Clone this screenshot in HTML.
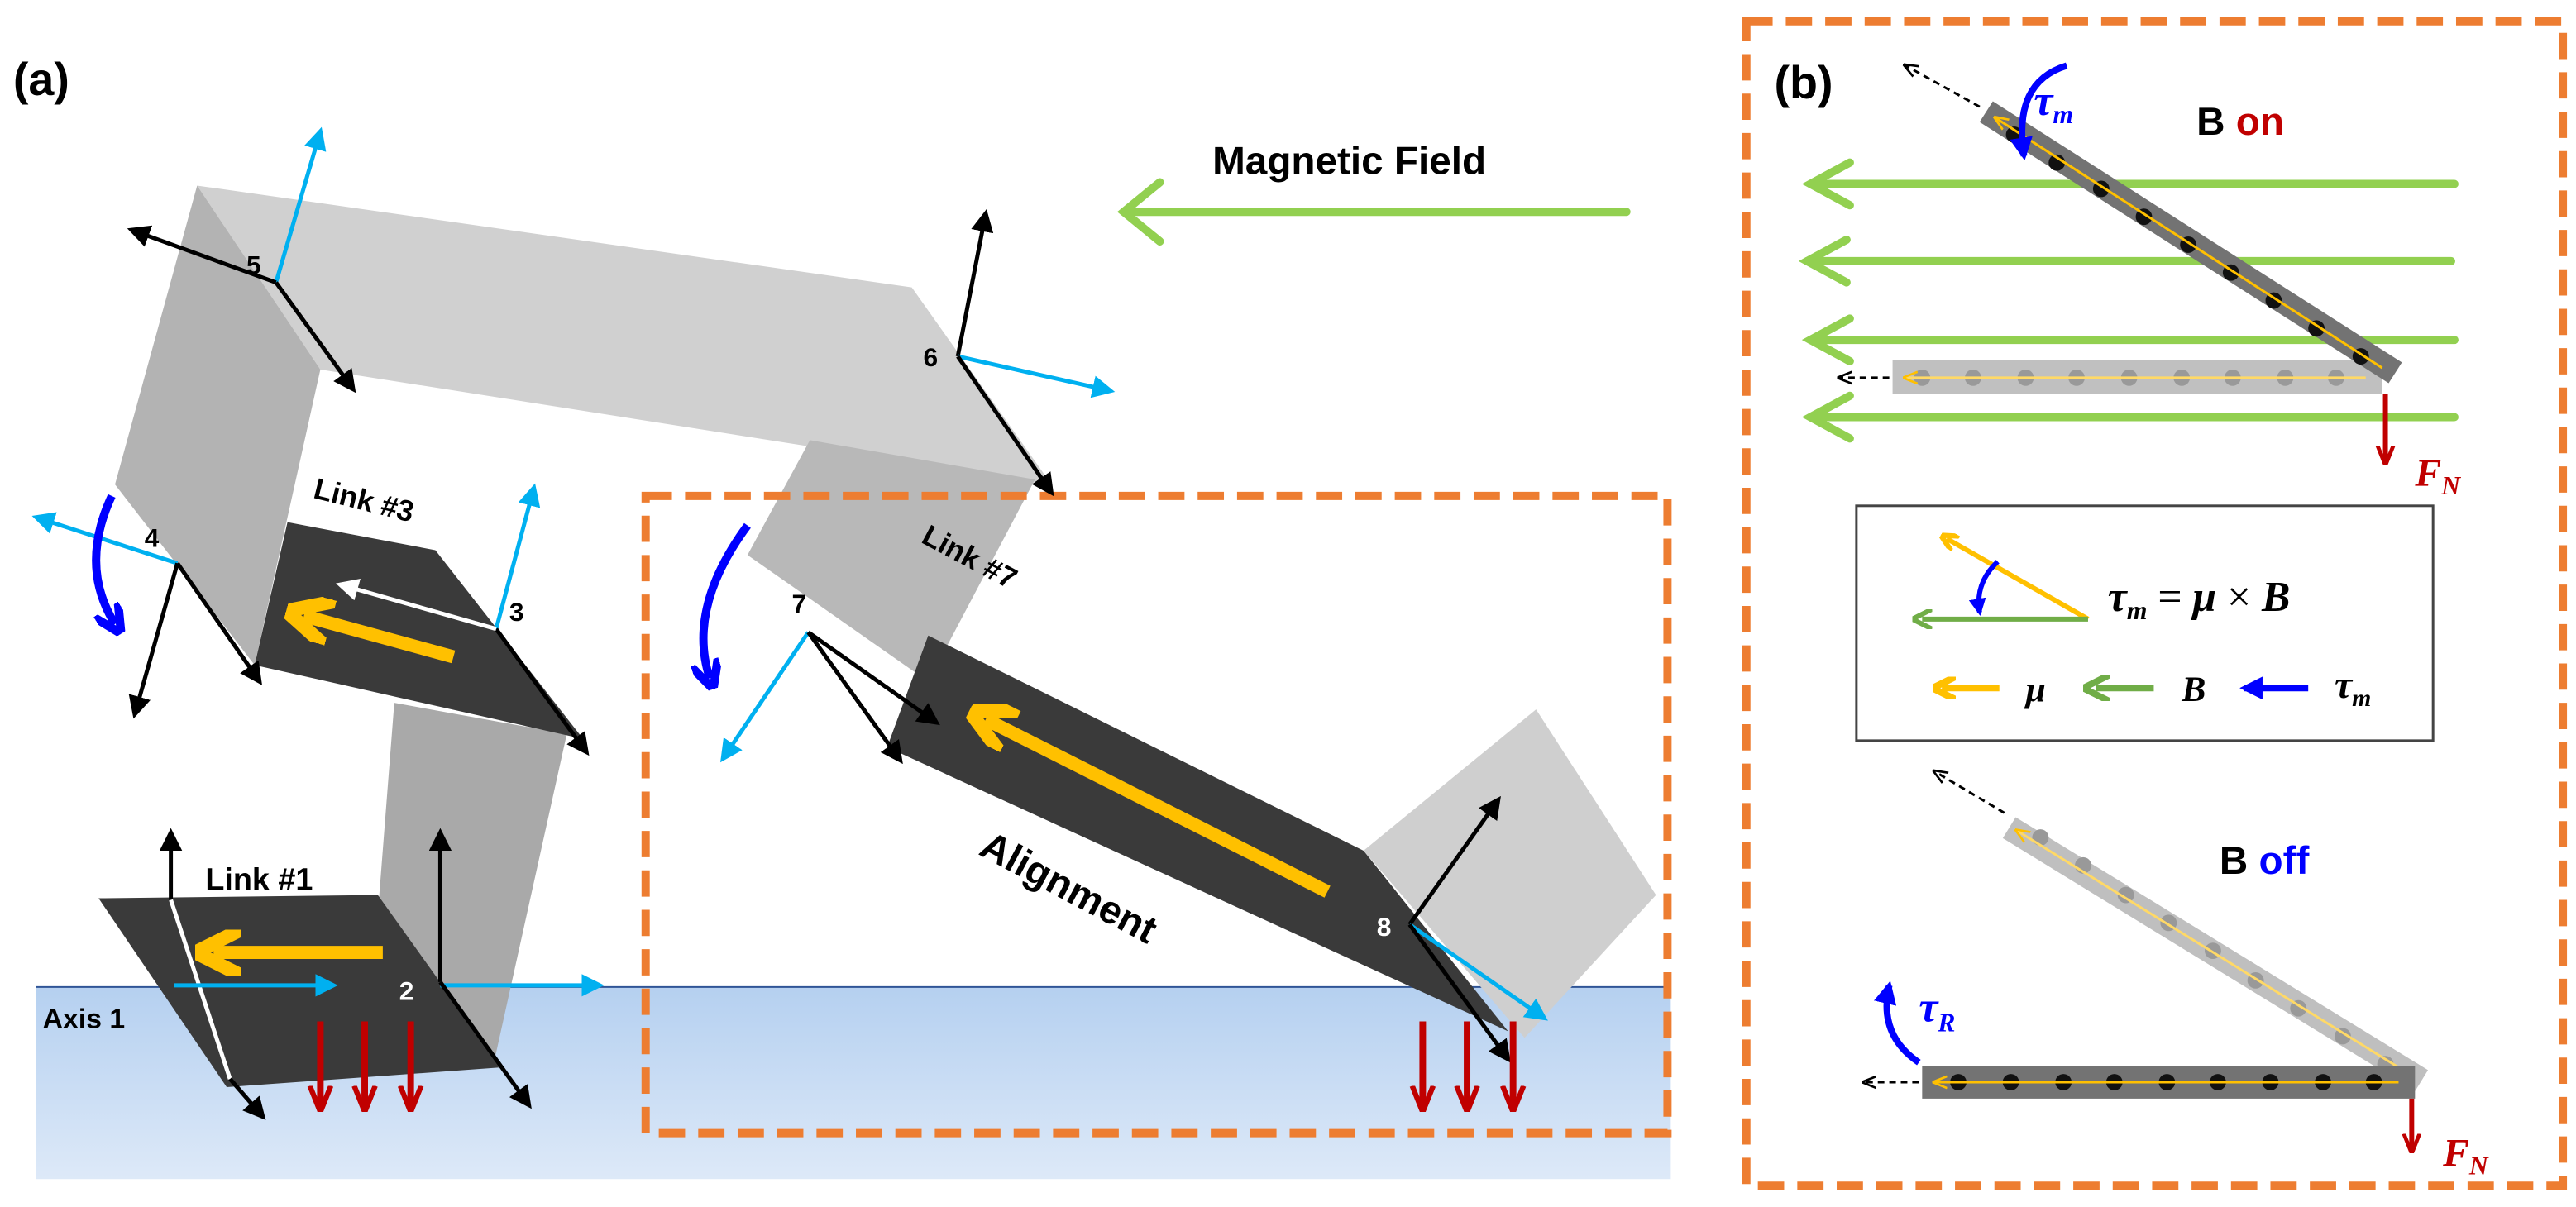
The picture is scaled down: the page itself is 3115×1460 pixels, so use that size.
<!DOCTYPE html>
<html><head><meta charset="utf-8"><style>
html,body{margin:0;padding:0;background:#fff;}
svg{display:block;}
</style></head><body>
<svg width="3115" height="1460" viewBox="0 0 1568 735" preserveAspectRatio="none" xmlns="http://www.w3.org/2000/svg">
<defs>
<linearGradient id="water" x1="0" y1="0" x2="0" y2="1">
<stop offset="0" stop-color="#b5d0f0"/><stop offset="1" stop-color="#dde9f8"/></linearGradient>
<marker id="mk" viewBox="0 0 10 10" refX="8" refY="5" markerWidth="5.5" markerHeight="5.5" orient="auto"><path d="M0,0L10,5L0,10z" fill="#000"/></marker>
<marker id="mc" viewBox="0 0 10 10" refX="8" refY="5" markerWidth="5.5" markerHeight="5.5" orient="auto"><path d="M0,0L10,5L0,10z" fill="#00b0f0"/></marker>
<marker id="mw" viewBox="0 0 10 10" refX="8" refY="5" markerWidth="5.5" markerHeight="5.5" orient="auto"><path d="M0,0L10,5L0,10z" fill="#fff"/></marker>
<marker id="mr" viewBox="0 0 10 10" refX="8" refY="5" markerWidth="4" markerHeight="4" orient="auto"><path d="M0,1L10,5L0,9" fill="none" stroke="#c00000" stroke-width="2"/></marker>
<marker id="my" viewBox="0 0 10 10" refX="6" refY="5" markerWidth="3.5" markerHeight="3.5" orient="auto"><path d="M0,0L10,5L0,10" fill="none" stroke="#ffc000" stroke-width="3"/></marker>
<marker id="mb" viewBox="0 0 10 10" refX="6" refY="5" markerWidth="3.5" markerHeight="3.5" orient="auto"><path d="M0,0L10,5L0,10" fill="none" stroke="#0000ff" stroke-width="3"/></marker>
<marker id="mg2" viewBox="0 0 10 10" refX="5" refY="5" markerWidth="4" markerHeight="4" orient="auto"><path d="M0,0L10,5L0,10" fill="none" stroke="#70ad47" stroke-width="2.5"/></marker>
<marker id="mbl" viewBox="0 0 10 10" refX="8" refY="5" markerWidth="3.5" markerHeight="3.5" orient="auto"><path d="M0,0L10,5L0,10z" fill="#0000ff"/></marker>
<marker id="md" viewBox="0 0 10 10" refX="8" refY="5" markerWidth="6" markerHeight="6" orient="auto"><path d="M0,1L10,5L0,9" fill="none" stroke="#000" stroke-width="1.5"/></marker>
<marker id="my2" viewBox="0 0 10 10" refX="8" refY="5" markerWidth="6" markerHeight="6" orient="auto"><path d="M0,1L10,5L0,9" fill="none" stroke="#ffc000" stroke-width="1.5"/></marker>
</defs>

<rect x="22" y="601" width="995" height="117" fill="url(#water)"/>
<line x1="22" y1="601" x2="1017" y2="601" stroke="#2f5496" stroke-width="1"/>

<polygon points="120,113 555,175 640,295 195,225" fill="#d0d0d0"/>
<polygon points="120,113 195,225 155,405 70,295" fill="#b3b3b3"/>
<polygon points="493,268 630,292 565,415 455,338" fill="#b8b8b8"/>
<polygon points="240,428 345,447 300,650 225,620" fill="#a9a9a9"/>
<polygon points="175,318 265,335 355,450 155,405" fill="#3a3a3a"/>
<polygon points="60,547 230,545 305,650 138,662" fill="#3a3a3a"/>
<polygon points="830,518 935,432 1008,545 928,632" fill="#cfcfcf"/>
<polygon points="565,387 830,518 918,628 540,455" fill="#3a3a3a"/>

<rect x="393" y="302" width="622" height="388" fill="none" stroke="#ed7d31" stroke-width="5" stroke-dasharray="16,8"/>
<rect x="1063" y="13" width="497" height="709" fill="none" stroke="#ed7d31" stroke-width="5" stroke-dasharray="16,8"/>

<text x="8" y="58" font-family="Liberation Sans, sans-serif" font-weight="bold" font-size="28">(a)</text>
<text x="738" y="106" font-family="Liberation Sans, sans-serif" font-weight="bold" font-size="24">Magnetic Field</text>
<g stroke="#92d050" stroke-width="5" fill="none" stroke-linecap="round">
<line x1="990" y1="129" x2="684" y2="129"/>
<polyline points="706,111 684,129 706,147"/>
</g>

<g stroke-width="2.5" fill="none">
<line x1="168" y1="172" x2="195" y2="80" stroke="#00b0f0" marker-end="url(#mc)"/>
<line x1="168" y1="172" x2="80" y2="140" stroke="#000" marker-end="url(#mk)"/>
<line x1="168" y1="172" x2="215" y2="237" stroke="#000" marker-end="url(#mk)"/>
<line x1="583" y1="217" x2="600" y2="130" stroke="#000" marker-end="url(#mk)"/>
<line x1="583" y1="217" x2="676" y2="238" stroke="#00b0f0" marker-end="url(#mc)"/>
<line x1="583" y1="217" x2="640" y2="300" stroke="#000" marker-end="url(#mk)"/>
<line x1="108" y1="343" x2="22" y2="315" stroke="#00b0f0" marker-end="url(#mc)"/>
<line x1="108" y1="343" x2="82" y2="435" stroke="#000" marker-end="url(#mk)"/>
<line x1="108" y1="343" x2="158" y2="415" stroke="#000" marker-end="url(#mk)"/>
<line x1="302" y1="383" x2="325" y2="297" stroke="#00b0f0" marker-end="url(#mc)"/>
<line x1="302" y1="383" x2="357" y2="458" stroke="#000" marker-end="url(#mk)"/>
<line x1="302" y1="383" x2="207" y2="356" stroke="#fff" marker-end="url(#mw)"/>
<line x1="104" y1="548" x2="104" y2="507" stroke="#000" marker-end="url(#mk)"/>
<line x1="104" y1="548" x2="140" y2="657" stroke="#fff"/>
<line x1="140" y1="657" x2="160" y2="680" stroke="#000" marker-end="url(#mk)"/>
<line x1="106" y1="600" x2="203" y2="600" stroke="#00b0f0" marker-end="url(#mc)"/>
<line x1="268" y1="598" x2="268" y2="507" stroke="#000" marker-end="url(#mk)"/>
<line x1="268" y1="600" x2="365" y2="600" stroke="#00b0f0" marker-end="url(#mc)"/>
<line x1="268" y1="598" x2="322" y2="673" stroke="#000" marker-end="url(#mk)"/>
<line x1="492" y1="385" x2="440" y2="462" stroke="#00b0f0" marker-end="url(#mc)"/>
<line x1="492" y1="385" x2="570" y2="440" stroke="#000" marker-end="url(#mk)"/>
<line x1="492" y1="385" x2="548" y2="463" stroke="#000" marker-end="url(#mk)"/>
<line x1="858" y1="563" x2="912" y2="487" stroke="#000" marker-end="url(#mk)"/>
<line x1="858" y1="563" x2="940" y2="620" stroke="#00b0f0" marker-end="url(#mc)"/>
<line x1="858" y1="563" x2="918" y2="645" stroke="#000" marker-end="url(#mk)"/>
</g>

<g stroke="#ffc000" stroke-width="8" fill="none">
<line x1="276" y1="400" x2="185" y2="375" marker-end="url(#my)"/>
<line x1="233" y1="580" x2="130" y2="580" marker-end="url(#my)"/>
<line x1="808" y1="543" x2="600" y2="438" marker-end="url(#my)"/>
</g>
<g stroke="#c00000" stroke-width="4">
<line x1="195" y1="622" x2="195" y2="674" marker-end="url(#mr)"/>
<line x1="222" y1="622" x2="222" y2="674" marker-end="url(#mr)"/>
<line x1="250" y1="622" x2="250" y2="674" marker-end="url(#mr)"/>
<line x1="866" y1="622" x2="866" y2="674" marker-end="url(#mr)"/>
<line x1="893" y1="622" x2="893" y2="674" marker-end="url(#mr)"/>
<line x1="921" y1="622" x2="921" y2="674" marker-end="url(#mr)"/>
</g>
<path d="M68,302 Q48,345 70,380" stroke="#0000ff" stroke-width="5" fill="none" marker-end="url(#mb)"/>
<path d="M455,320 Q418,370 432,413" stroke="#0000ff" stroke-width="5" fill="none" marker-end="url(#mb)"/>

<g font-family="Liberation Sans, sans-serif" font-weight="bold">
<text x="150" y="167" font-size="16">5</text>
<text x="562" y="223" font-size="16">6</text>
<text x="88" y="333" font-size="16">4</text>
<text x="310" y="378" font-size="16">3</text>
<text x="482" y="373" font-size="16">7</text>
<text x="838" y="570" font-size="16" fill="#fff">8</text>
<text x="243" y="609" font-size="16" fill="#fff">2</text>
<text x="26" y="626" font-size="17">Axis 1</text>
<text x="125" y="542" font-size="19">Link #1</text>
<text x="190" y="303" font-size="18" transform="rotate(14 190 303)">Link #3</text>
<text x="560" y="330" font-size="18" transform="rotate(28 560 330)">Link #7</text>
<text x="595" y="520" font-size="24" transform="rotate(28 595 520)">Alignment</text>
</g>

<text x="1080" y="60" font-family="Liberation Sans, sans-serif" font-weight="bold" font-size="28">(b)</text>
<text x="1337" y="82" font-family="Liberation Sans, sans-serif" font-weight="bold" font-size="24">B <tspan fill="#c00000">on</tspan></text>
<text x="1351" y="532" font-family="Liberation Sans, sans-serif" font-weight="bold" font-size="24">B <tspan fill="#0000ff">off</tspan></text>

<g stroke="#92d050" stroke-width="5" fill="none" stroke-linecap="round">
<line x1="1494" y1="112" x2="1102" y2="112"/><polyline points="1126,99 1102,112 1126,125"/>
<line x1="1492" y1="159" x2="1100" y2="159"/><polyline points="1124,146 1100,159 1124,172"/>
<line x1="1494" y1="207" x2="1102" y2="207"/><polyline points="1126,194 1102,207 1126,220"/>
<line x1="1494" y1="254" x2="1102" y2="254"/><polyline points="1126,241 1102,254 1126,267"/>
</g>
<rect x="1152" y="219" width="298" height="21" fill="#c0c0c0"/>
<g fill="#999">
<circle cx="1170" cy="230" r="5"/><circle cx="1201" cy="230" r="5"/><circle cx="1233" cy="230" r="5"/><circle cx="1264" cy="230" r="5"/><circle cx="1296" cy="230" r="5"/><circle cx="1328" cy="230" r="5"/><circle cx="1359" cy="230" r="5"/><circle cx="1391" cy="230" r="5"/><circle cx="1422" cy="230" r="5"/>
</g>
<line x1="1440" y1="230" x2="1160" y2="230" stroke="#ffd966" stroke-width="1.5" marker-end="url(#my2)"/>
<line x1="1150" y1="230" x2="1120" y2="230" stroke="#000" stroke-width="1.5" stroke-dasharray="4,3" marker-end="url(#md)"/>
<line x1="1209" y1="68" x2="1458" y2="227" stroke="#737373" stroke-width="15"/>
<g fill="#111">
<circle cx="1226" cy="82" r="5"/><circle cx="1252" cy="99" r="5"/><circle cx="1279" cy="115" r="5"/><circle cx="1305" cy="132" r="5"/><circle cx="1332" cy="149" r="5"/><circle cx="1358" cy="166" r="5"/><circle cx="1384" cy="183" r="5"/><circle cx="1410" cy="200" r="5"/><circle cx="1437" cy="217" r="5"/>
</g>
<line x1="1450" y1="224" x2="1215" y2="72" stroke="#ffc000" stroke-width="1.5" marker-end="url(#my2)"/>
<line x1="1205" y1="65" x2="1160" y2="40" stroke="#000" stroke-width="1.5" stroke-dasharray="4,3" marker-end="url(#md)"/>
<path d="M1258,40 Q1225,50 1232,95" stroke="#0000ff" stroke-width="4" fill="none" marker-end="url(#mbl)"/>
<text x="1238" y="70" font-family="Liberation Serif, serif" font-style="italic" font-weight="bold" font-size="26" fill="#0000ff">τ<tspan font-size="16" dy="5">m</tspan></text>
<line x1="1452" y1="240" x2="1452" y2="281" stroke="#c00000" stroke-width="3" marker-end="url(#mr)"/>
<text x="1470" y="296" font-family="Liberation Serif, serif" font-style="italic" font-weight="bold" font-size="24" fill="#c00000">F<tspan font-size="16" dy="5">N</tspan></text>

<rect x="1130" y="308" width="351" height="143" fill="#fff" stroke="#444" stroke-width="1.5"/>
<line x1="1271" y1="377" x2="1185" y2="328" stroke="#ffc000" stroke-width="3" marker-end="url(#my)"/>
<line x1="1271" y1="377" x2="1170" y2="377" stroke="#70ad47" stroke-width="3" marker-end="url(#mg2)"/>
<path d="M1216,342 Q1202,355 1205,373" stroke="#0000ff" stroke-width="3" fill="none" marker-end="url(#mbl)"/>
<text x="1283" y="372" font-family="Liberation Serif, serif" font-style="italic" font-weight="bold" font-size="26">τ<tspan font-size="16" dy="5">m</tspan><tspan dy="-5" font-style="normal" font-weight="normal"> = </tspan>μ<tspan font-style="normal" font-weight="normal"> × </tspan>B</text>
<line x1="1217" y1="419" x2="1182" y2="419" stroke="#ffc000" stroke-width="4" marker-end="url(#my)"/>
<text x="1233" y="427" font-family="Liberation Serif, serif" font-style="italic" font-weight="bold" font-size="22">μ</text>
<line x1="1311" y1="419" x2="1276" y2="419" stroke="#70ad47" stroke-width="4" marker-end="url(#mg2)"/>
<text x="1328" y="427" font-family="Liberation Serif, serif" font-style="italic" font-weight="bold" font-size="22">B</text>
<line x1="1405" y1="419" x2="1366" y2="419" stroke="#0000ff" stroke-width="4" marker-end="url(#mbl)"/>
<text x="1421" y="425" font-family="Liberation Serif, serif" font-style="italic" font-weight="bold" font-size="24">τ<tspan font-size="15" dy="5">m</tspan></text>

<line x1="1223" y1="504" x2="1474" y2="658" stroke="#bfbfbf" stroke-width="15"/>
<g fill="#999">
<circle cx="1242" cy="510" r="5"/><circle cx="1268" cy="527" r="5"/><circle cx="1294" cy="545" r="5"/><circle cx="1320" cy="562" r="5"/><circle cx="1347" cy="579" r="5"/><circle cx="1373" cy="597" r="5"/><circle cx="1399" cy="614" r="5"/><circle cx="1426" cy="631" r="5"/><circle cx="1452" cy="648" r="5"/>
</g>
<line x1="1460" y1="650" x2="1228" y2="506" stroke="#ffd966" stroke-width="1.5" marker-end="url(#my2)"/>
<line x1="1220" y1="495" x2="1178" y2="470" stroke="#000" stroke-width="1.5" stroke-dasharray="4,3" marker-end="url(#md)"/>
<rect x="1170" y="649" width="300" height="20" fill="#737373"/>
<g fill="#111">
<circle cx="1192" cy="659" r="5"/><circle cx="1224" cy="659" r="5"/><circle cx="1256" cy="659" r="5"/><circle cx="1287" cy="659" r="5"/><circle cx="1319" cy="659" r="5"/><circle cx="1350" cy="659" r="5"/><circle cx="1382" cy="659" r="5"/><circle cx="1414" cy="659" r="5"/><circle cx="1445" cy="659" r="5"/>
</g>
<line x1="1460" y1="659" x2="1178" y2="659" stroke="#ffc000" stroke-width="1.5" marker-end="url(#my2)"/>
<line x1="1168" y1="659" x2="1135" y2="659" stroke="#000" stroke-width="1.5" stroke-dasharray="4,3" marker-end="url(#md)"/>
<path d="M1168,647 Q1143,630 1150,600" stroke="#0000ff" stroke-width="4" fill="none" marker-end="url(#mbl)"/>
<text x="1168" y="622" font-family="Liberation Serif, serif" font-style="italic" font-weight="bold" font-size="26" fill="#0000ff">τ<tspan font-size="16" dy="6">R</tspan></text>
<line x1="1468" y1="669" x2="1468" y2="700" stroke="#c00000" stroke-width="3" marker-end="url(#mr)"/>
<text x="1487" y="710" font-family="Liberation Serif, serif" font-style="italic" font-weight="bold" font-size="24" fill="#c00000">F<tspan font-size="16" dy="5">N</tspan></text>
</svg>
</body></html>
